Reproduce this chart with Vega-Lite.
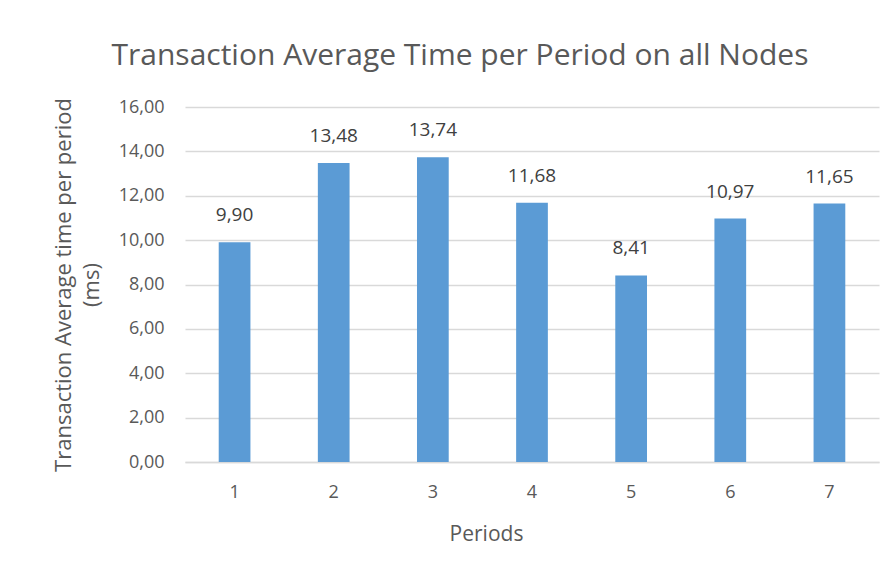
{
  "$schema": "https://vega.github.io/schema/vega-lite/v6.json",
  "width": 694,
  "height": 355,
  "autosize": {"type": "none"},
  "padding": {"left": 185, "top": 107, "right": 14, "bottom": 109},
  "background": "white",
  "config": {
    "locale": {"number": {"decimal": ",", "thousands": ".", "grouping": [3], "currency": ["", " €"]}},
    "view": {"stroke": null},
    "font": "Open Sans"
  },
  "title": {
    "text": "Transaction Average Time per Period on all Nodes",
    "fontSize": 30,
    "fontWeight": "normal",
    "color": "#595959",
    "font": "Open Sans",
    "anchor": "middle",
    "dx": -72,
    "offset": 27
  },
  "data": {
    "values": [
      {"period": "1", "value": 9.90},
      {"period": "2", "value": 13.48},
      {"period": "3", "value": 13.74},
      {"period": "4", "value": 11.68},
      {"period": "5", "value": 8.41},
      {"period": "6", "value": 10.97},
      {"period": "7", "value": 11.65}
    ]
  },
  "encoding": {
    "x": {
      "field": "period",
      "type": "ordinal",
      "scale": {"paddingInner": 0.68, "paddingOuter": 0.34},
      "axis": {
        "title": "Periods",
        "labelAngle": 0,
        "labelFontSize": 18,
        "labelColor": "#595959",
        "labelPadding": 21,
        "ticks": false,
        "domainColor": "#d9d9d9",
        "domainWidth": 1.5,
        "titleFontSize": 21,
        "titleFontWeight": "normal",
        "titleColor": "#595959",
        "titlePadding": 22,
        "titleX": 301,
        "titleAlign": "center"
      }
    },
    "y": {
      "field": "value",
      "type": "quantitative",
      "scale": {"domain": [0, 16], "nice": false},
      "axis": {
        "title": ["Transaction Average time per period", "(ms)"],
        "values": [0, 2, 4, 6, 8, 10, 12, 14, 16],
        "format": ".2f",
        "labelFontSize": 18,
        "labelColor": "#595959",
        "labelPadding": 21,
        "ticks": false,
        "domain": false,
        "gridColor": "#d9d9d9",
        "gridWidth": 1.5,
        "titleFontSize": 22,
        "titleFontWeight": "normal",
        "titleColor": "#595959",
        "titlePadding": 15,
        "titleLineHeight": 28
      }
    }
  },
  "layer": [
    {"mark": {"type": "bar", "color": "#5b9bd5"}},
    {
      "mark": {"type": "text", "baseline": "middle", "dy": -27, "fontSize": 19, "color": "#404040"},
      "encoding": {"text": {"field": "value", "type": "quantitative", "format": ".2f"}}
    }
  ]
}
